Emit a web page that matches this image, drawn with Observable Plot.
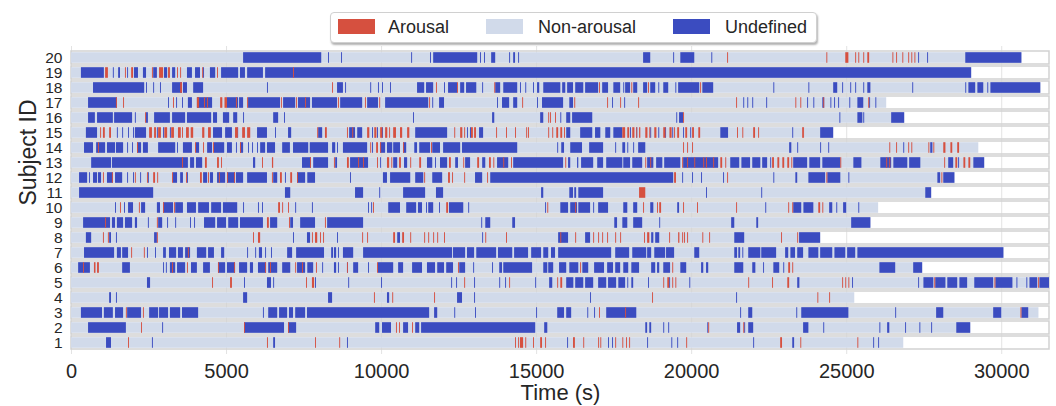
<!DOCTYPE html>
<html><head><meta charset="utf-8">
<script src="https://cdn.jsdelivr.net/npm/d3@7"></script>
<script src="https://cdn.jsdelivr.net/npm/@observablehq/plot@0.6"></script>
<style>
body{margin:0;background:#fff;font-family:"Liberation Sans",Arial,sans-serif;}
#wrap{position:relative;width:1056px;height:406px;overflow:hidden;}
#chart{position:absolute;left:0;top:0;}
#legend{position:absolute;left:330px;top:12px;width:487px;height:31px;box-sizing:border-box;border:1px solid #d0d0d0;border-radius:4px;background:#fff;box-shadow:1px 2px 2px rgba(0,0,0,0.3);font-size:18px;color:#262626;}
#legend .sw{position:absolute;top:6px;width:37px;height:15px;}
#legend .lb{position:absolute;top:0;line-height:29px;white-space:nowrap;}
</style></head>
<body>
<div id="wrap"><div id="chart"></div><div id="legend"></div></div>
<script>
// ---- categories / legend ----
const stateNames = ["Arousal", "Non-arousal", "Undefined"];
const stateColors = ["#d6503f", "#d1daea", "#3b4cc0"];
const subjectIds = [20,19,18,17,16,15,14,13,12,11,10,9,8,7,6,5,4,3,2,1];
const xTicks = [0,5000,10000,15000,20000,25000,30000];
const EPOCH = 30; // single-epoch events (s)

// ---- recording end times (s), subject 1..20 ----
const endTimes = [26840,29000,31200,25260,31540,27450,30070,24160,25780,26030,27740,28490,29450,29260,24580,26870,26290,31260,29030,30650];

// ---- undefined / arousal intervals per subject (s); single number = one epoch ----
const und20 = [[5550,8070],8290,8710,10970,11580,[11680,13100],13190,13320,[13550,13680],14130,[14260,14320],14420,[18450,18680],19420,[19650,20100],20650,27320,27610,[28840,30650]];
const aro20 = [21160,24360,[24970,25070],25290,25390,25550,[25680,25740],26490,26610,[26810,26840],27000,27100,27200];
const und19 = [[320,1060],1350,[1520,1580],1810,[2030,2160],[2320,2420],[2650,2770],[3000,3100],[3260,3360],[3740,3900],[4000,4160],4260,[4480,4650],[4840,5390],[5450,5610],[5680,6190],[6260,29030]];
const aro19 = [[1100,1190],1740,[1940,2000],2610,[2840,2970],[3130,3190],3420,3520,4230,4710,7160];
const und18 = [[710,2360],2420,2650,2870,[3260,3580],[3610,3740],[3940,4260],6320,[8580,8770],8840,9650,9900,10030,10290,[11160,11390],[11450,11680],12030,[12160,12450],[12550,12680],[12740,13070],13260,[13680,13840],[13940,14390],14480,14650,14900,[15030,15100],[15230,15780],[15840,15940],[16000,16190],[16260,16520],[16580,17000],[17130,17320],[17490,17710],17810,[17870,18030],[18130,18260],[18450,18580],[18680,18840],18940,[19100,19260],19490,[19580,20260],[20360,20710],22650,23780,[24580,24710],24870,25130,25290,25550,[25680,25780],27130,28840,[28940,29160],[29230,29420],29550,[29650,31260]];
const aro18 = [[3520,3580],8420,11770,12450,13650,17030,18070,18610,20290];
const und17 = [[550,1480],3130,3390,[3580,3610],[3770,3900],[4060,4550],[5030,5390],[5420,5550],[5710,6740],[6840,7230],[7320,7710],[7770,8580],[8680,9390],[9550,9900],[10130,11520],11650,[11870,12030],13740,[13900,14130],[14260,14390],15030,[15190,15870],[16070,16190],17450,17840,21680,21810,21970,22420,23740,23940,[24230,24290],24490,24610,24740,25100,[25360,25550],25740,25940];
const aro17 = [1450,1680,3290,[4060,4130],4290,4390,[4810,4880],[4950,5030],5320,5680,6770,7260,7550,8610,9480,9940,11550,14550,16230,17290,17710,18290,21450,23360,23520,24260,25710];
const und16 = [[550,770],[840,1350],[1390,1970],2060,[2420,2480],[2680,3190],[3260,3680],[3740,4520],[4580,4710],[4900,5100],[5230,5360],5550,[6520,6680],6870,11030,[13580,13650],[15130,15230],15780,[15970,16100],[16160,16810],19520,[19610,19740],24780,[25360,25520],25550,[26450,26870]];
const aro16 = [2390,15390,15450,15610,19740];
const und15 = [[480,840],1480,[1650,1680],1840,2000,[2060,2420],2770,2970,3190,[4580,4870],[4970,5190],5360,[6000,6320],6580,[7000,7100],[7970,8100],[8970,9160],[9230,9390],9710,9870,10030,[11100,12130],12770,12870,[13160,13290],[15970,16100],[16420,16810],[16900,17070],[17230,17390],[17490,17780],18030,18230,18680,18940,19160,19390,19740,19970,[20940,21190],23260,[24160,24580]];
const aro15 = [940,[1030,1090],[1230,1290],[2520,2610],[2680,2740],[2810,2900],[3010,3100],[3230,3320],[3450,3540],[3580,3610],[3710,3800],[3860,3940],[4230,4300],[4420,4510],[5290,5380],[5520,5610],[5680,5780],7940,[8190,8250],8900,9070,[9550,9620],[9780,9850],[9970,10040],[10130,10200],[10260,10290],[10390,10480],[10610,10680],[10840,10910],12360,[12550,12620],[12680,12710],[12900,12960],[13000,13060],13710,14030,14320,14680,14740,15390,15520,[15650,15710],[15780,15840],15900,[17780,17870],[17940,18000],[18100,18170],18230,[18320,18360],[18520,18590],18650,[18810,18880],[19100,19170],[19300,19370],19450,[19550,19610],[19810,19870],[20030,20090],[20230,20290],21480,21650,[22000,22060],22160,23580,23610];
const und14 = [[420,710],[810,1100],[1160,1420],[1450,1680],1810,1970,[2130,2260],[2320,2480],[2810,3360],3420,[3610,3900],[4030,4130],[4390,4550],[4610,4940],[5030,5190],5320,[5450,5550],5710,5840,6000,[6100,6260],[6320,6580],[6810,7060],[7160,7650],[7700,8290],[8420,8520],8580,[8770,9550],9710,[9970,10130],[10190,10360],[10390,10610],[10710,10810],[11070,11160],[11230,11580],[11650,11900],[12000,12550],[12610,14390],15680,[15810,15900],[16100,16480],[16710,17160],17550,[17780,17870],17940,18130,[18290,18520],[23160,23230],23420,24160,24420,26840,[27710,27780]];
const aro14 = [870,2130,4000,4260,4580,5450,9650,[9840,9900],9970,10710,11610,19740,19870,20030,26390,26610,27000,27100,27650,27810,[28130,28200],[28360,28420],[28580,28640]];
const und13 = [[650,1290],[1320,3770],[3840,3970],[4030,4230],[5870,5940],[7450,7740],[7810,8290],[8520,8580],[9000,9580],9970,[10390,10520],[10740,10840],[11480,11650],11740,[11900,12130],[12390,12480],[12710,12870],[13260,13360],[13740,14100],[14260,15870],[16030,16100],[16320,16360],[16450,16840],[16970,17160],[17260,17780],[17810,18030],[18100,18420],[18580,18780],[18870,19070],[19130,19650],[19740,20870],[21260,21550],[21620,21900],[21970,22230],[22290,22450],22550,[23290,23740],[23810,24160],[24230,24810],[25230,25490],[26100,26450],[26520,26970],[27030,27390],[28290,28450],28610,[29100,29450]];
const aro13 = [3580,[4320,4380],[4710,4770],4840,6160,[6480,6520],7710,8480,[8900,8960],9260,9420,9870,[10190,10260],10330,[10580,10640],10940,[11230,11290],[12190,12250],12650,[13100,13160],[13480,13540],13620,13940,14190,15940,18520,18680,19710,19870,20100,20390,20480,20710,[20940,21000],21100,[22610,22670],[22780,22840],[22940,23000],[23100,23160],23230,24810,26290,26390,28160,[28520,28580],[28780,28840],[28940,29000]];
const und12 = [[260,520],580,[710,840],[870,970],[1160,1350],[1420,1650],1810,2000,2230,2480,[3290,3420],[3520,3610],[3740,3770],[4260,4390],[4480,4580],[4710,4970],[5030,5290],[5320,5550],[5680,6320],[6520,6650],6900,[7290,7550],[7620,7870],9000,[10060,10190],[10290,10940],[11100,11360],[11650,11970],[13030,13260],[13520,19420],19710,20030,20320,21030,22650,[23360,23420],[23780,24320],[24390,24810],25070,[27940,28030],[28130,28490]];
const aro12 = [1030,1320,2060,2450,[2650,2710],2780,3260,3710,[4160,4220],4420,4770,5030,5260,6480,[6740,6800],[7070,7130],7290,11390,[12160,12220],12290,12680,13420,[19450,19510],21160,24360,28070];
const und11 = [[260,2650],[6900,7070],[9160,9420],9940,[10710,11420],[11770,12000],[15160,15230],[16070,16190],[16230,16290],[16360,17160],20480,22260,[27550,27740]];
const aro11 = [[18320,18520]];
const und10 = [1420,1710,[1840,2000],[2260,2390],[2770,2870],[2970,3290],[3360,3610],[3740,4030],[4100,4450],[4520,4840],[4900,5360],5550,6030,6160,7230,7770,9580,9680,[10230,10610],[10810,11130],[11190,11320],11450,[11520,11680],11870,[12190,12650],12810,15290,[15780,16030],[16100,16320],[16360,16740],16840,[17000,17320],[17810,17940],[18130,18260],[18680,18780],[19550,19610],22390,[23290,23550],[23620,23940],[24450,24550],24680,[24900,25000],25390];
const aro10 = [1580,2190,2970,3320,[6680,6740],6810,7000,9740,[12100,12160],15360,16260,18450,18900,[18970,19030],19740,20190,21450,23130,23260,[24100,24160],[24230,24260]];
const und9 = [[390,1260],[1320,1420],[1480,1680],[1740,1970],[2060,2130],2480,[2810,2940],3100,3360,3840,3970,[4290,4650],[4710,5000],[5070,5390],[5450,6190],[6420,6650],[7070,7160],[7390,7870],[8260,9420],13230,[13360,13520],[14230,14320],[17520,17610],[17780,17940],[18130,18420],18970,[21290,21390],[22100,22160],[25160,25780]];
const aro9 = [1100,2770,[6320,6380],7030,8190];
const und8 = [[480,650],[1230,1290],1450,[2680,2770],7160,[7610,7710],[8580,8610],[10520,10610],[13260,13290],[15710,16030],[16580,16740],[18710,18780],[18840,18970],[21390,21710],[23480,24160]];
const aro8 = [1030,1190,2770,5870,[6030,6100],7770,[7870,7940],8030,8130,9390,9550,[10390,10450],[10680,10740],10940,11390,11520,11680,11810,12030,13360,14030,15780,16260,16840,17000,17130,[17290,17320],17550,17710,18480,[18580,18650],19290,[19580,19620],19710,19770,19870,20360,20580,22900,23420];
const und7 = [[420,1390],[1480,1610],[1650,1840],2450,2710,[2970,3060],[3160,3390],[3450,3610],[3680,3840],[4060,4360],[4420,4610],[4840,4940],5680,5940,[6060,6160],6260,6450,[6970,7130],[7260,8160],[8390,8450],[8480,8550],8610,[8770,9100],[9420,12290],[12320,12710],[12770,13000],[13070,13710],[13770,14230],[14290,14740],[14840,15160],[15230,15390],[15480,15610],[15710,17420],[17550,18000],[18100,18550],[18580,18710],[18810,19160],[19190,19450],[20100,20260],[21390,21480],[21520,21580],[21650,21680],[21840,22230],[22260,22740],[23030,23130],[23200,23350],[23420,23610],[23780,24100],[24160,24550],[24620,24970],[25030,25290],[25360,30070]];
const aro7 = [1940,2350,3770];
const und6 = [[230,610],[1650,1900],2970,3060,[3190,3360],[3420,3680],[3870,4060],[4260,4480],[4740,4970],[5030,5290],[5420,5680],[5770,5870],[6030,6290],[6360,6650],[6810,7070],[7290,7550],[7620,7810],8100,[8480,8550],8610,8900,[9100,9260],9580,[9900,10390],[10550,10710],[11000,11320],[11480,11740],[11810,12030],[12100,12320],[12520,12710],12970,13580,[13810,13900],[13940,14870],[15230,15360],[15390,15550],[15740,15970],[16070,16360],[16490,16680],[16870,17190],[17290,17480],[17550,17710],[17810,17970],[18070,18320],[18710,18840],[18900,18970],[19100,19320],[19650,19840],[20320,20390],[20480,20550],[21390,21680],[21970,22070],22320,[22650,22840],22970,[26070,26580],[27160,27450]];
const aro6 = [390,[740,790],[840,900],3260,3740,4740,5260,6260,6420,7230,7450,7900,8900,9870,12480,16420,19390,[23130,23190],23260];
const und5 = [[2450,2550],5580,[6320,6450],6520,7870,8940,10000,12260,12420,13000,13810,14000,14970,[15420,15520],[15970,16200],[16260,16520],[16580,16840],[17000,17260],[17320,17580],[17650,17870],17940,[18070,18130],18610,19290,19940,[23420,23490],25190,27320,[27490,27810],[27870,28200],[28260,28580],[28650,28900],[29130,29740],[29810,30360],30490,30810,[30910,31160],[31230,31540]];
const aro5 = [4550,[5130,5190],7580,[7770,7840],12680,14130,15680,[15780,15840],19100,[19230,19290],19390,19490,21840,22610,[23100,23160],24870,24970,25070,27840,29780,31190];
const und4 = [[1230,1290],1450,[5550,5680],[8290,8420],[10190,10260],[12450,12610],13000,16740,21450];
const aro4 = [9770,10360,11710,18740,24070,24450];
const und3 = [[320,1000],[1060,1350],[1420,1680],[1810,2260],[2520,2810],[2840,3130],[3190,3520],[3580,4100],6190,[6360,6650],[6710,6970],[7030,7160],[7230,7550],[7610,11550],[11710,11810],12360,13030,15000,[15680,15900],[15970,16130],16650,16870,[17260,18230],21580,[21840,21970],23390,[23550,25070],26580,[27900,28130],[29740,30000],[30650,30870]];
const aro3 = [1770,2320,17030,17870,30620];
const und2 = [[550,1770],2940,[5580,6870],[7000,7260],[9810,9940],[10030,10320],[10710,10870],[11100,11230],[11290,14970],[15260,15360],[18520,18580],[18650,18710],19100,19260,20520,[21480,21580],21710,[21840,22000],[23610,23780],24260,26070,[26320,26390],26900,27360,27740,[28550,29000]];
const aro2 = [2260,5580,7000,10480,10580,11000,20550,21680];
const und1 = [[1130,1290],2610,[6520,6580],8900,16000,17320,17450,18580,19360,19550,22000,[23260,23320],25870,26030];
const aro1 = [1840,6320,7870,8650,14320,14420,[14480,14580],14650,14900,[15130,15190],15290,[16190,16250],16520,17000,17070,17550,17780,17900,18000,19840,[22870,22930],23520,25360];

const undefinedBySubject = [und1,und2,und3,und4,und5,und6,und7,und8,und9,und10,und11,und12,und13,und14,und15,und16,und17,und18,und19,und20];
const arousalBySubject = [aro1,aro2,aro3,aro4,aro5,aro6,aro7,aro8,aro9,aro10,aro11,aro12,aro13,aro14,aro15,aro16,aro17,aro18,aro19,aro20];

const toSeg = (subject) => (e) => Array.isArray(e) ? {subject, start: e[0], end: e[1]} : {subject, start: e, end: e + EPOCH};
const background = endTimes.map((end, i) => ({subject: i + 1, start: 0, end}));
const undefSegs = undefinedBySubject.flatMap((l, i) => l.map(toSeg(i + 1)));
const arousalSegs = arousalBySubject.flatMap((l, i) => l.map(toSeg(i + 1)));
const xMax = d3.max(endTimes);

const chart = Plot.plot({
  width: 1056, height: 406,
  marginLeft: 71, marginRight: 7, marginTop: 46, marginBottom: 52,
  style: {fontFamily: "'Liberation Sans', Arial, sans-serif", color: "#262626", background: "transparent", overflow: "visible"},
  x: {domain: [0, xMax]},
  y: {domain: subjectIds, padding: 0.12},
  marks: [
    Plot.ruleX(xTicks, {stroke: "#e3e3e3", strokeWidth: 1}),
    Plot.barX(subjectIds, {x1: 0, x2: xMax, y: d => d, fill: "none", stroke: "#d2d2d2", strokeWidth: 1.5}),
    Plot.barX(background, {x1: "start", x2: "end", y: "subject", fill: stateColors[1], insetTop: 1.2, insetBottom: 1.2}),
    Plot.barX(undefSegs, {x1: "start", x2: "end", y: "subject", fill: stateColors[2], insetTop: 1.2, insetBottom: 1.2}),
    Plot.barX(arousalSegs, {x1: "start", x2: "end", y: "subject", fill: stateColors[0], insetTop: 1.2, insetBottom: 1.2}),
    Plot.axisY({tickSize: 0, tickPadding: 9, fontSize: 15.5, label: null}),
    Plot.axisX({ticks: xTicks, tickSize: 0, tickPadding: 9, fontSize: 20, label: null, tickFormat: d3.format("d")}),
    Plot.text(["Time (s)"], {text: d => d, frameAnchor: "bottom", dy: 38, fontSize: 22, lineAnchor: "middle"}),
    Plot.text(["Subject ID"], {text: d => d, frameAnchor: "left", dx: -43, dy: 5, rotate: -90, fontSize: 23, lineAnchor: "middle"})
  ]
});
document.getElementById("chart").appendChild(chart);

// ---- legend ----
const legend = document.getElementById("legend");
const swLeft = [7, 155, 342], lbLeft = [57, 207, 394];
stateNames.forEach((name, i) => {
  const sw = document.createElement("div"); sw.className = "sw";
  sw.style.left = swLeft[i] + "px"; sw.style.background = stateColors[i];
  const lb = document.createElement("div"); lb.className = "lb";
  lb.style.left = lbLeft[i] + "px"; lb.textContent = name;
  legend.appendChild(sw); legend.appendChild(lb);
});
</script>
</body></html>
